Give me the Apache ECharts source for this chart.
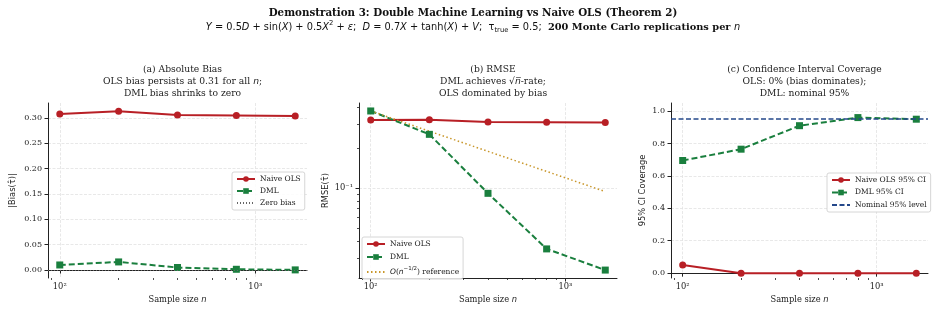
<!DOCTYPE html>
<html>
<head>
<meta charset="utf-8">
<script src="https://cdn.jsdelivr.net/npm/echarts@6/dist/echarts.min.js"></script>
<style>html,body{margin:0;padding:0;background:#fff}#c{width:936px;height:313px}</style>
</head>
<body>
<div id="c"></div>
<script>
// ---- data ----
const nValues = [100, 200, 400, 800, 1600];
const biasOLS = [0.308, 0.313, 0.306, 0.305, 0.304];
const biasDML = [0.010, 0.016, 0.005, 0.0015, 0.0003];
const zeroBias = 0;
const rmseOLS = [0.323, 0.324, 0.312, 0.311, 0.309];
const rmseDML = [0.377, 0.252, 0.0912, 0.0350, 0.0243];
const rmseRef = [0.377, 0.266, 0.188, 0.133, 0.094];
const covOLS = [0.05, 0, 0, 0, 0];
const covDML = [0.695, 0.765, 0.91, 0.96, 0.95];
const nominalLevel = 0.95;
// ticks
const xMajorTicks = [100, 1000];
const xMajorLabels = ['10²', '10³'];
const xMinorTicks = [90, 200, 300, 400, 500, 600, 700, 800, 900];
const biasTicks = [0, 0.05, 0.10, 0.15, 0.20, 0.25, 0.30];
const covTicks = [0, 0.2, 0.4, 0.6, 0.8, 1.0];
const rmseMajorTicks = [0.1];
const rmseMajorLabels = ['10⁻¹'];
const rmseMinorTicks = [0.03, 0.04, 0.05, 0.06, 0.07, 0.08, 0.09, 0.2, 0.3, 0.4];

const RED = '#b81f25', GREEN = '#1a7f3e', GOLD = '#c9972b', NAVY = '#24488a';
const SERIF = 'DejaVu Serif', SANS = 'DejaVu Sans';
const XMIN = 87.06, XMAX = 1838;

const pair = (xs, ys) => xs.map((x, i) => [x, ys[i]]);

const grids = [
  {left: 48, top: 103, width: 259, height: 175},
  {left: 359, top: 103, width: 258, height: 175},
  {left: 671, top: 103, width: 257, height: 175}
];

const gridLine = {show: true, lineStyle: {color: '#e2e2e2', type: [3, 1.5], width: 0.8}};
const axisLineStyle = {show: true, lineStyle: {color: '#222', width: 1}};

function xAxes(gi) {
  return [
    {
      type: 'log', gridIndex: gi, position: 'bottom', min: XMIN, max: XMAX, logBase: 10,
      axisLine: axisLineStyle,
      axisTick: {show: true, length: 3.5, customValues: xMajorTicks, lineStyle: {color: '#222'}},
      axisLabel: {show: true, customValues: xMajorTicks, margin: 5, color: '#222',
        formatter: v => '{t|' + (xMajorLabels[xMajorTicks.findIndex(t => Math.abs(t - v) < 1e-6 * t)] || '') + '}',
        rich: {t: {fontFamily: SERIF, fontSize: 8.3, color: '#222'}}},
      splitLine: gridLine,
      name: '{t|Sample size }{i|n}', nameLocation: 'middle', nameGap: 17,
      nameTextStyle: {rich: {t: {fontFamily: SERIF, fontSize: 8.3, color: '#222'}, i: {fontFamily: SANS, fontStyle: 'italic', fontSize: 8.3, color: '#222'}}}
    },
    {
      type: 'log', gridIndex: gi, position: 'bottom', min: XMIN, max: XMAX, logBase: 10,
      axisLine: {show: false},
      axisTick: {show: true, length: 2, customValues: xMinorTicks, lineStyle: {color: '#222', width: 0.8}},
      axisLabel: {show: false}, splitLine: {show: false}
    }
  ];
}

function yLabelFmt(v) { return v.toFixed(2); }

const titleRich = {
  t: {fontFamily: SERIF, fontWeight: 'normal', fontSize: 9.2, color: '#222', lineHeight: 12},
  i: {fontFamily: SANS, fontStyle: 'italic', fontWeight: 'normal', fontSize: 9.2, color: '#222', lineHeight: 12}
};

const legendBase = {
  orient: 'vertical', itemWidth: 18, itemHeight: 7, padding: [3, 4, 3, 4],
  backgroundColor: 'rgba(255,255,255,0.85)', borderColor: '#ccc', borderWidth: 0.8, borderRadius: 2
};

const option = {
  animation: false,
  backgroundColor: '#fff',
  title: [
    {text: 'Demonstration 3: Double Machine Learning vs Naive OLS (Theorem 2)', left: 468, textAlign: 'center', top: 3,
     textStyle: {fontFamily: SERIF, fontWeight: 'bold', fontSize: 10.3, color: '#111'}},
    {text: '{i|Y}{m| = 0.5}{i|D}{m| + sin(}{i|X}{m|) + 0.5}{i|X}{sup|2}{m| + }{i|ε}{m|;  }{i|D}{m| = 0.7}{i|X}{m| + tanh(}{i|X}{m|) + }{i|V}{m|;  τ}{sub|true}{m| = 0.5;  }{b|200 Monte Carlo replications per }{i|n}',
     left: 468, textAlign: 'center', top: 15,
     textStyle: {fontWeight: 'normal', rich: {
       m: {fontFamily: SANS, fontWeight: 'normal', fontSize: 9.8, color: '#111', lineHeight: 14, verticalAlign: 'middle'},
       i: {fontFamily: SANS, fontStyle: 'italic', fontWeight: 'normal', fontSize: 9.8, color: '#111', lineHeight: 14, verticalAlign: 'middle'},
       sup: {fontFamily: SANS, fontWeight: 'normal', fontSize: 6.8, color: '#111', lineHeight: 14, verticalAlign: 'top'},
       sub: {fontFamily: SANS, fontWeight: 'normal', fontSize: 6.8, color: '#111', lineHeight: 14, verticalAlign: 'bottom'},
       b: {fontFamily: SERIF, fontWeight: 'bold', fontSize: 9.8, color: '#111', lineHeight: 14, verticalAlign: 'middle'}
     }}},
    {text: '{t|(a) Absolute Bias}\n{t|OLS bias persists at 0.31 for all }{i|n}{t|;}\n{t|DML bias shrinks to zero}',
     left: 177.5, textAlign: 'center', top: 59,
     textStyle: {fontWeight: 'normal', rich: titleRich}},
    {text: '{t|(b) RMSE}\n{t|DML achieves √}{i|n̅}{t|-rate;}\n{t|OLS dominated by bias}',
     left: 488, textAlign: 'center', top: 59,
     textStyle: {fontWeight: 'normal', rich: titleRich}},
    {text: '{t|(c) Confidence Interval Coverage}\n{t|OLS: 0% (bias dominates);}\n{t|DML: nominal 95%}',
     left: 799.5, textAlign: 'center', top: 59,
     textStyle: {fontWeight: 'normal', rich: titleRich}}
  ],
  grid: grids,
  xAxis: [].concat(xAxes(0), xAxes(1), xAxes(2)),
  yAxis: [
    {type: 'value', gridIndex: 0, position: 'left', min: -0.0157, max: 0.3295,
     axisLine: axisLineStyle,
     axisTick: {show: true, length: 3.5, customValues: biasTicks, lineStyle: {color: '#222'}},
     axisLabel: {customValues: biasTicks, margin: 6, fontFamily: SERIF, fontSize: 8, color: '#222', formatter: yLabelFmt},
     splitLine: gridLine,
     name: '|Bias(τ̂)|', nameLocation: 'middle', nameGap: 31,
     nameTextStyle: {fontFamily: SANS, fontSize: 8.3, color: '#222'}},
    {type: 'log', gridIndex: 1, position: 'left', min: 0.0212, max: 0.4325, logBase: 10,
     axisLine: axisLineStyle,
     axisTick: {show: true, length: 3.5, customValues: rmseMajorTicks, lineStyle: {color: '#222'}},
     axisLabel: {customValues: rmseMajorTicks, margin: 6, fontFamily: SERIF, fontSize: 8.3, color: '#222',
       formatter: v => rmseMajorLabels[rmseMajorTicks.findIndex(t => Math.abs(t - v) < 1e-6)] || ''},
     splitLine: gridLine,
     name: 'RMSE(τ̂)', nameLocation: 'middle', nameGap: 29,
     nameTextStyle: {fontFamily: SANS, fontSize: 8.3, color: '#222'}},
    {type: 'log', gridIndex: 1, position: 'left', min: 0.0212, max: 0.4325, logBase: 10,
     axisLine: {show: false},
     axisTick: {show: true, length: 2, customValues: rmseMinorTicks, lineStyle: {color: '#222', width: 0.8}},
     axisLabel: {show: false}, splitLine: {show: false}},
    {type: 'value', gridIndex: 2, position: 'left', min: -0.03, max: 1.05,
     axisLine: axisLineStyle,
     axisTick: {show: true, length: 3.5, customValues: covTicks, lineStyle: {color: '#222'}},
     axisLabel: {customValues: covTicks, margin: 6, fontFamily: SERIF, fontSize: 8, color: '#222', formatter: v => v.toFixed(1)},
     splitLine: gridLine,
     name: '95% CI Coverage', nameLocation: 'middle', nameGap: 24,
     nameTextStyle: {fontFamily: SANS, fontSize: 8.3, color: '#222'}}
  ],
  legend: [
    Object.assign({}, legendBase, {
      data: ['Naive OLS', 'DML', {name: 'Zero bias', itemStyle: {opacity: 0}}], left: 232, top: 172, itemGap: 4,
      textStyle: {fontFamily: SERIF, fontSize: 7.5, color: '#222'}}),
    Object.assign({}, legendBase, {
      data: ['Naive OLS', 'DML', {name: 'O(n^-1/2) reference', itemStyle: {opacity: 0}}], left: 362, top: 237, itemGap: 5,
      formatter: name => name === 'O(n^-1/2) reference' ? '{i|O}{t|(}{i|n}{s|−1/2}{t|) reference}' : '{t|' + name + '}',
      textStyle: {fontFamily: SERIF, fontSize: 7.5, color: '#222', rich: {
        t: {fontFamily: SERIF, fontSize: 7.5, color: '#222'},
        i: {fontFamily: SANS, fontStyle: 'italic', fontSize: 7.5, color: '#222'},
        s: {fontFamily: SANS, fontSize: 5.5, color: '#222', verticalAlign: 'top', lineHeight: 12}}}}),
    Object.assign({}, legendBase, {
      data: ['Naive OLS 95% CI', 'DML 95% CI', {name: 'Nominal 95% level', itemStyle: {opacity: 0}}], left: 827, top: 173, itemGap: 4.5,
      textStyle: {fontFamily: SERIF, fontSize: 7.5, color: '#222'}})
  ],
  series: [
    // (a)
    {name: 'Naive OLS', type: 'line', xAxisIndex: 0, yAxisIndex: 0, data: pair(nValues, biasOLS),
     symbol: 'circle', symbolSize: 7, itemStyle: {color: RED}, lineStyle: {color: RED, width: 2}},
    {name: 'DML', type: 'line', xAxisIndex: 0, yAxisIndex: 0, data: pair(nValues, biasDML),
     symbol: 'rect', symbolSize: 7, itemStyle: {color: GREEN}, lineStyle: {color: GREEN, width: 2, type: [6, 3]}},
    {name: 'Zero bias', type: 'line', xAxisIndex: 0, yAxisIndex: 0, data: [], symbol: 'none',
     lineStyle: {color: '#666', width: 1, type: [1, 2]}, itemStyle: {color: '#666'},
     markLine: {silent: true, symbol: 'none', label: {show: false}, lineStyle: {color: '#666', width: 1, type: [1, 2]},
       data: [{yAxis: zeroBias}]}},
    // (b)
    {name: 'Naive OLS', type: 'line', xAxisIndex: 2, yAxisIndex: 1, data: pair(nValues, rmseOLS),
     symbol: 'circle', symbolSize: 7, itemStyle: {color: RED}, lineStyle: {color: RED, width: 2}},
    {name: 'DML', type: 'line', xAxisIndex: 2, yAxisIndex: 1, data: pair(nValues, rmseDML),
     symbol: 'rect', symbolSize: 7, itemStyle: {color: GREEN}, lineStyle: {color: GREEN, width: 2, type: [6, 3]}},
    {name: 'O(n^-1/2) reference', type: 'line', xAxisIndex: 2, yAxisIndex: 1, data: pair(nValues, rmseRef),
     symbol: 'none', itemStyle: {color: GOLD}, lineStyle: {color: GOLD, width: 1.5, type: [1.5, 2.5]}},
    // (c)
    {name: 'Naive OLS 95% CI', type: 'line', xAxisIndex: 4, yAxisIndex: 3, data: pair(nValues, covOLS),
     symbol: 'circle', symbolSize: 7, itemStyle: {color: RED}, lineStyle: {color: RED, width: 2}},
    {name: 'DML 95% CI', type: 'line', xAxisIndex: 4, yAxisIndex: 3, data: pair(nValues, covDML),
     symbol: 'rect', symbolSize: 7, itemStyle: {color: GREEN}, lineStyle: {color: GREEN, width: 2, type: [6, 3]}},
    {name: 'Nominal 95% level', type: 'line', xAxisIndex: 4, yAxisIndex: 3, data: [], symbol: 'none',
     lineStyle: {color: NAVY, width: 1.5, type: [5, 2.5]}, itemStyle: {color: NAVY},
     markLine: {silent: true, symbol: 'none', label: {show: false}, lineStyle: {color: NAVY, width: 1.5, type: [5, 2.5]},
       data: [{yAxis: nominalLevel}]}}
  ]
};

const chart = echarts.init(document.getElementById('c'), null, {renderer: 'canvas'});
chart.setOption(option);
</script>
</body>
</html>
